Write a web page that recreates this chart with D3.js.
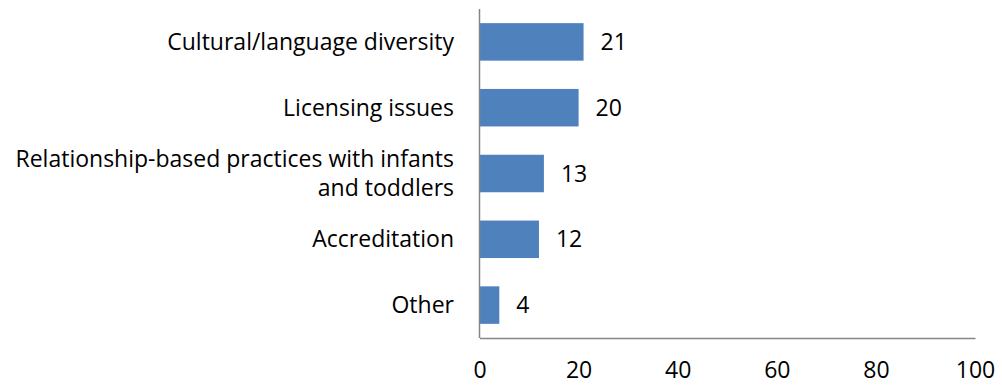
<!DOCTYPE html>
<html>
<head>
<meta charset="utf-8">
<script src="https://cdn.jsdelivr.net/npm/d3@7"></script>
<style>
  html, body { margin: 0; padding: 0; background: #fff; }
  svg { display: block; }
  text { font-family: "Open Sans", "DejaVu Sans", sans-serif; fill: #000; }
</style>
</head>
<body>
<svg id="chart" width="1002" height="386"></svg>
<script>
// Topics and counts
const categories = [
  "Cultural/language diversity",
  "Licensing issues",
  "Relationship-based practices with infants and toddlers",
  "Accreditation",
  "Other"
];
const categoryLines = [
  ["Cultural/language diversity"],
  ["Licensing issues"],
  ["Relationship-based practices with infants", "and toddlers"],
  ["Accreditation"],
  ["Other"]
];
const values = [21, 20, 13, 12, 4];
const xTicks = [0, 20, 40, 60, 80, 100];

const svg = d3.select("#chart");
const plotLeft = 479.5, plotRight = 975, plotTop = 9, plotBottom = 338;
const fontSize = 23;

const x = d3.scaleLinear().domain([0, 100]).range([plotLeft, plotRight]);
const y = d3.scaleBand().domain(categories).range([plotTop, plotBottom]).paddingInner(0.43).paddingOuter(0.215);

// Bars
svg.selectAll("rect.bar").data(values).join("rect")
  .attr("class", "bar")
  .attr("x", x(0))
  .attr("y", (d, i) => y(categories[i]))
  .attr("width", d => x(d) - x(0))
  .attr("height", y.bandwidth())
  .attr("fill", "#4F81BD");

// Value labels
svg.selectAll("text.val").data(values).join("text")
  .attr("class", "val")
  .attr("x", d => x(d) + 17)
  .attr("y", (d, i) => y(categories[i]) + y.bandwidth() / 2)
  .attr("dy", "0.35em")
  .attr("font-size", fontSize)
  .text(d => d);

// Category labels
categories.forEach((c, i) => {
  const lines = categoryLines[i];
  const cy = y(c) + y.bandwidth() / 2;
  const lh = 29;
  lines.forEach((ln, j) => {
    svg.append("text")
      .attr("x", 454)
      .attr("y", cy + (j - (lines.length - 1) / 2) * lh)
      .attr("dy", "0.35em")
      .attr("text-anchor", "end")
      .attr("font-size", fontSize)
      .text(ln);
  });
});

// Axes
const xAxis = d3.axisBottom(x).tickValues(xTicks).tickSize(0).tickPadding(24);
const gx = svg.append("g").attr("transform", `translate(0,${plotBottom})`).call(xAxis);
gx.select(".domain").attr("stroke", "#868686").attr("stroke-width", 1.5);
gx.selectAll("text").attr("font-size", fontSize).style("font-family", '"Open Sans", sans-serif').attr("fill", "#000");

svg.append("line")
  .attr("x1", plotLeft).attr("x2", plotLeft)
  .attr("y1", plotTop).attr("y2", plotBottom)
  .attr("stroke", "#868686").attr("stroke-width", 1.5);
</script>
</body>
</html>
